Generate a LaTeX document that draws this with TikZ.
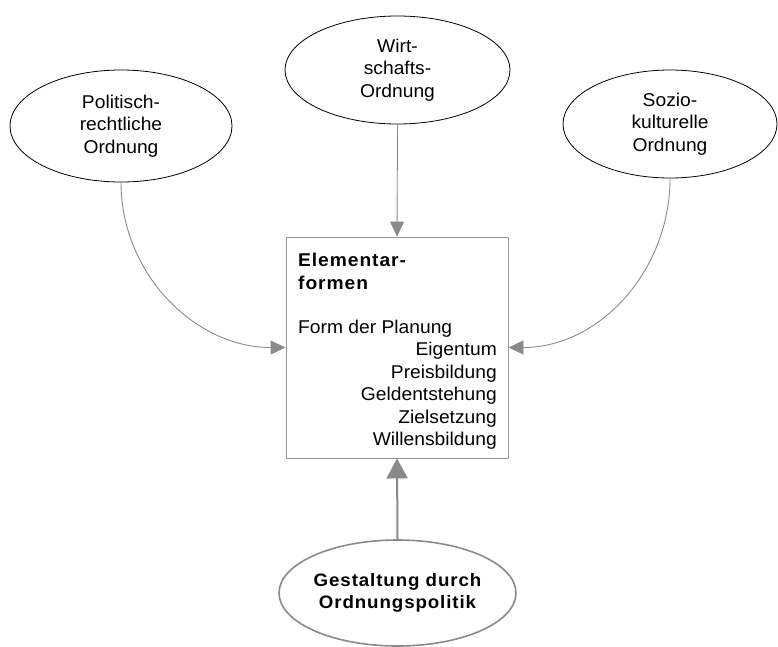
\documentclass[tikz,border=0pt]{standalone}
\usepackage{fontspec}
\setmainfont[FakeStretch=1.04]{Liberation Sans}
\usetikzlibrary{shapes.geometric,arrows.meta}
\definecolor{linegray}{HTML}{8A8A8A}
\definecolor{boxgray}{HTML}{9A9A9A}
\begin{document}
\begin{tikzpicture}[x=1pt,y=-1pt,
  txt/.style={font=\fontsize{18.5}{22.5}\selectfont},
  boldtxt/.style={font=\fontsize{18}{21.5}\selectfont\bfseries\addfontfeature{LetterSpace=5}},
  ell/.style={ellipse,draw=black,line width=0.8pt,inner sep=0pt,align=center,txt},
  bigell/.style={ellipse,draw=linegray,line width=1.6pt,inner sep=0pt,align=center,boldtxt},
  box/.style={rectangle,draw=boxgray,line width=0.9pt,inner sep=0pt,minimum width=222pt,minimum height=221pt},
  thin/.style={draw=linegray,line width=0.9pt,-{Triangle[length=15pt,width=14pt,fill=linegray]}},
  thick/.style={draw=linegray,line width=2pt,-{Triangle[length=20pt,width=21pt,fill=linegray]}}
]
\useasboundingbox (0,0) rectangle (778,646);

\node[ell,minimum width=222pt,minimum height=112pt] (lo) at (121,126) {Politisch-\\rechtliche\\Ordnung};
\node[ell,minimum width=225pt,minimum height=108pt] (te) at (397.5,70) {Wirt-\\schafts-\\Ordnung};
\node[ell,minimum width=214pt,minimum height=108pt] (ro) at (670,124) {Sozio-\\kulturelle\\Ordnung};

\node[box] (b) at (397,347.5) {};
\node[anchor=north west,inner sep=0pt,align=left,txt] (bt) at (298,253)
  {{\bfseries\addfontfeature{LetterSpace=5}Elementar-}\\{\bfseries\addfontfeature{LetterSpace=5}formen}\\[22pt]Form der Planung};
\node[anchor=north east,inner sep=0pt,align=right,txt] (bl) at (497,342)
  {Eigentum\\Preisbildung\\Geldentstehung\\Zielsetzung\\Willensbildung};

\node[bigell,minimum width=223pt,minimum height=106pt] (bo) at (397.5,593) {Gestaltung durch\\Ordnungspolitik};

\draw[thin] (te.south) -- (b.north);
\draw[thin] (lo.south) to[out=-90,in=180] (b.west);
\draw[thin] (ro.south) to[out=-90,in=0] (b.east);
\draw[thick] (bo.north) -- (b.south);
\end{tikzpicture}
\end{document}
